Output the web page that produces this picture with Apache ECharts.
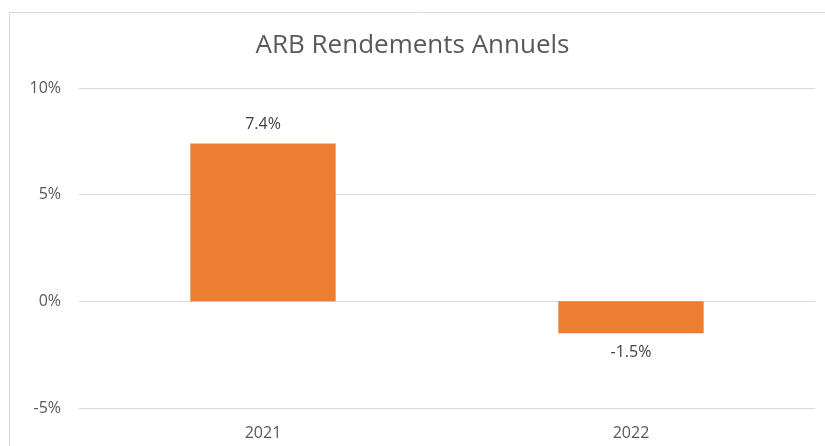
<!DOCTYPE html>
<html><head><meta charset="utf-8">
<script src="https://cdn.jsdelivr.net/npm/echarts@6/dist/echarts.min.js"></script>
<style>html,body{margin:0;padding:0;background:#fff}#c{width:825px;height:446px}</style>
</head><body><div id="c"></div>
<script>
var categories = ['2021', '2022'];
var returns = [7.4, -1.5];
var yTicks = [-5, 0, 5, 10];

var chart = echarts.init(document.getElementById('c'));
chart.setOption({
  animation: false,
  graphic: [{type: 'rect', shape: {x: 9.5, y: 12.5, width: 830, height: 450}, style: {fill: 'none', stroke: '#d9d9d9', lineWidth: 1}, silent: true}],
  title: {text: 'ARB Rendements Annuels', left: 'center', top: 28, textStyle: {fontFamily: 'Open Sans', fontSize: 26, fontWeight: 'normal', color: '#595959'}},
  grid: {left: 79, right: 10, top: 88, bottom: 38},
  xAxis: {type: 'category', data: categories, axisLine: {show: false}, axisTick: {show: false},
    axisLabel: {color: '#595959', fontFamily: 'Open Sans', fontSize: 16, margin: 17}},
  yAxis: {type: 'value', min: yTicks[0], max: yTicks[yTicks.length - 1], interval: 5,
    axisLabel: {formatter: '{value}%', color: '#595959', fontFamily: 'Open Sans', fontSize: 16, margin: 18},
    splitLine: {lineStyle: {color: '#d9d9d9'}}},
  series: [{type: 'bar', data: returns.map(function(v){return {value: v, label: {position: v < 0 ? 'bottom' : 'top'}};}),
    barWidth: '39.5%', itemStyle: {color: '#ED7D31'},
    label: {show: true, formatter: function(p){return p.value.toFixed(1) + '%';}, color: '#404040', fontFamily: 'Open Sans', fontSize: 16,
      distance: 11}}]
});
</script></body></html>
